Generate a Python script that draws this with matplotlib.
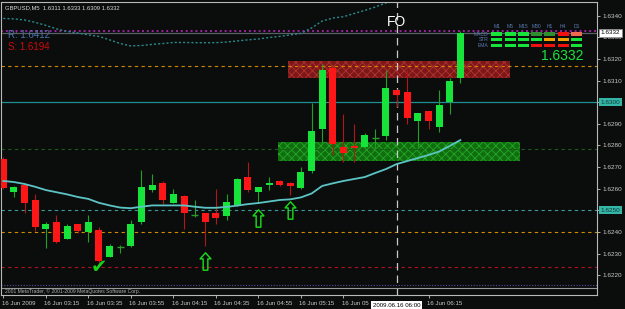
import matplotlib.pyplot as plt
from matplotlib.path import Path
from matplotlib.patches import Rectangle
from matplotlib.transforms import blended_transform_factory, ScaledTranslation

# GBPUSD M5, 16 Jun 2009, bars from 02:55 to 06:30
opens = [1.62738, 1.62586, 1.62616, 1.62548, 1.62415, 1.62448, 1.62366, 1.62438, 1.62399, 1.62409,
         1.62286, 1.62330, 1.62335, 1.62446, 1.62594, 1.62628, 1.62535, 1.62566, 1.62477, 1.62486,
         1.62486, 1.62475, 1.62523, 1.62656, 1.62585, 1.62616, 1.62637, 1.62628, 1.62602, 1.62682,
         1.62875, 1.63160, 1.62794, 1.62798, 1.62794, 1.62836, 1.62845, 1.63056, 1.63049, 1.62913,
         1.62959, 1.62887, 1.63000, 1.63110]
highs = [1.62748, 1.62614, 1.62620, 1.62576, 1.62446, 1.62479, 1.62437, 1.62438, 1.62479, 1.62425,
         1.62344, 1.62339, 1.62455, 1.62687, 1.62668, 1.62636, 1.62597, 1.62570, 1.62548, 1.62486,
         1.62597, 1.62576, 1.62648, 1.62725, 1.62610, 1.62656, 1.62640, 1.62630, 1.62702, 1.62995,
         1.63175, 1.63162, 1.62944, 1.62898, 1.62856, 1.62876, 1.63149, 1.63060, 1.63149, 1.62952,
         1.62960, 1.63056, 1.63111, 1.63330]
lows = [1.62598, 1.62563, 1.62489, 1.62406, 1.62327, 1.62350, 1.62366, 1.62397, 1.62355, 1.62255,
        1.62283, 1.62304, 1.62329, 1.62437, 1.62586, 1.62530, 1.62533, 1.62415, 1.62468, 1.62335,
        1.62437, 1.62455, 1.62520, 1.62586, 1.62535, 1.62594, 1.62613, 1.62571, 1.62598, 1.62674,
        1.62811, 1.62756, 1.62725, 1.62725, 1.62787, 1.62784, 1.62825, 1.62980, 1.62898, 1.62794,
        1.62876, 1.62864, 1.62944, 1.63090]
closes = [1.62605, 1.62607, 1.62535, 1.62425, 1.62438, 1.62355, 1.62428, 1.62405, 1.62448, 1.62266,
          1.62335, 1.62330, 1.62438, 1.62607, 1.62617, 1.62548, 1.62576, 1.62486, 1.62477, 1.62448,
          1.62465, 1.62537, 1.62645, 1.62594, 1.62607, 1.62628, 1.62616, 1.62614, 1.62679, 1.62867,
          1.63149, 1.62807, 1.62764, 1.62787, 1.62848, 1.62836, 1.63067, 1.63033, 1.62926, 1.62949,
          1.62913, 1.62987, 1.63098, 1.63320]

ma_line = [1.62636, 1.62631, 1.62622, 1.62609, 1.62594, 1.62584, 1.62574, 1.62562, 1.62553, 1.62535,
           1.62523, 1.62513, 1.62510, 1.62517, 1.62523, 1.62523, 1.62523, 1.62523, 1.62517, 1.62512,
           1.62512, 1.62516, 1.62522, 1.62529, 1.62534, 1.62541, 1.62548, 1.62551, 1.62560, 1.62578,
           1.62613, 1.62625, 1.62636, 1.62645, 1.62654, 1.62673, 1.62691, 1.62714, 1.62728, 1.62742,
           1.62756, 1.62772, 1.62798, 1.62825]
upper_line = [1.63387, 1.63385, 1.63380, 1.63369, 1.63355, 1.63339, 1.63327, 1.63320, 1.63311, 1.63304,
              1.63288, 1.63271, 1.63260, 1.63262, 1.63267, 1.63271, 1.63276, 1.63276, 1.63275, 1.63275,
              1.63275, 1.63278, 1.63283, 1.63288, 1.63292, 1.63299, 1.63304, 1.63311, 1.63318, 1.63343,
              1.63375, 1.63389, 1.63395, 1.63410, 1.63424, 1.63440, 1.63459, 1.63473]

level_prices = [1.63330, 1.63320, 1.63167, 1.63000, 1.62782, 1.62500, 1.62400, 1.62237, 1.62155]

zone_start = [26.8, 25.8]
zone_end = [47.7, 48.6]
zone_low = [1.63113, 1.62730]
zone_high = [1.63191, 1.62817]

arrow_bars = [19, 24, 27]
arrow_prices = [1.62264, 1.62465, 1.62504]
check_bar = 9
check_price = 1.62234

tick_bars = [0, 4, 8, 12, 16, 20, 24, 28, 32, 40]
tick_labels = ["16 Jun 2009", "16 Jun 03:15", "16 Jun 03:35", "16 Jun 03:55", "16 Jun 04:15",
               "16 Jun 04:35", "16 Jun 04:55", "16 Jun 05:15", "16 Jun 05", "16 Jun 06:15"]
price_ticks = [1.6220, 1.6230, 1.6240, 1.6250, 1.6260, 1.6270, 1.6280, 1.6290, 1.6300, 1.6310,
               1.6320, 1.6330, 1.6340]
boxed_prices = [1.6300, 1.6250]

tf_labels = ["M1", "M5", "M15", "M30", "H1", "H4", "D1"]
row_labels = ["MACD", "STR", "EMA"]
G, DG, R, O, S = "#16e43a", "#2f8f2f", "#f01010", "#f0a000", "#f06a50"
signal_colors = [[G, G, G, DG, DG, R, S],
                 [G, G, G, G, O, O, G],
                 [G, G, G, R, R, R, G]]

bg = "#0b0d0d"
plt.rcParams["hatch.linewidth"] = 0.6

fig = plt.figure(figsize=(6.25, 3.09), dpi=100, facecolor=bg)
ax = fig.add_axes([1 / 625, 14 / 309, 596 / 625, 293 / 309])
ax.set_facecolor(bg)
ax.set_xlim(-0.216, 55.85)
ax.set_ylim(1.62109, 1.63463)

# zones
zone_colors = [("#7c1818", "#b33232"), ("#0f6f0f", "#26a626")]
for i in range(2):
    ax.add_patch(Rectangle((zone_start[i], zone_low[i]), zone_end[i] - zone_start[i],
                           zone_high[i] - zone_low[i], facecolor=zone_colors[i][0],
                           edgecolor=zone_colors[i][1], hatch="xxxx", linewidth=0, zorder=1))

# horizontal levels
level_styles = [("#a020a0", (0, (1, 1.5)), 1.4), ("#5a6068", "-", 0.9), ("#d08a00", (0, (3, 3)), 0.8),
                ("#1f8f8f", "-", 0.9), ("#1a5a1a", (0, (3, 3)), 0.8), ("#3c9a9a", (0, (3, 3)), 0.8),
                ("#d08a00", (0, (3, 3)), 0.8), ("#b01020", (0, (3, 3)), 0.8), ("#5050a0", (0, (1, 1.5)), 0.8)]
for p, (c, ls, lw) in zip(level_prices, level_styles):
    ax.axhline(p, color=c, linestyle=ls, linewidth=lw, zorder=1.5)

# vertical line at 06:00
ax.axvline(37, color="#c8c8c8", linestyle=(0, (6, 4)), linewidth=0.9, zorder=1.5)

x = list(range(len(closes)))
ax.plot(range(len(upper_line)), upper_line, color="#2a8a8a", linestyle=(0, (1.5, 1.5)), linewidth=1.0, zorder=2)

# candles
for i in x:
    o, h, l, c = opens[i], highs[i], lows[i], closes[i]
    if o == c:
        ax.vlines(i, l, h, color="#2a9a2a", linewidth=0.8, zorder=3)
        ax.hlines(o, i - 0.33, i + 0.33, color="#2a9a2a", linewidth=1.0, zorder=3)
        continue
    bull = c > o
    ax.vlines(i, l, h, color="#22a022" if bull else "#b01818", linewidth=0.8, zorder=3)
    ax.bar(i, abs(c - o), width=0.66, bottom=min(o, c), color="#16e43a" if bull else "#ff1616",
           linewidth=0, zorder=4)

ax.plot(range(len(ma_line)), ma_line, color="#5cc4c4", linewidth=1.3, zorder=5)

# arrows and check mark
arrow = Path([(0, 1), (0.62, 0.3), (0.27, 0.3), (0.27, -1), (-0.27, -1), (-0.27, 0.3), (-0.62, 0.3), (0, 1)],
             [Path.MOVETO] + [Path.LINETO] * 6 + [Path.CLOSEPOLY])
ax.plot(arrow_bars, arrow_prices, linestyle="none", marker=arrow, markersize=12.5,
        markerfacecolor="none", markeredgecolor="#19e019", markeredgewidth=1.0, zorder=6)
ax.text(check_bar, check_price, "\u2714", color="#19d219", fontsize=14, ha="center", va="center",
        family="DejaVu Sans", zorder=6)

# axes frame and ticks
for s in ax.spines.values():
    s.set_color("#b8b8b8")
    s.set_linewidth(0.8)
ax.yaxis.tick_right()
ax.set_yticks(price_ticks)
ax.set_yticklabels(["" if p in boxed_prices else "%.4f" % p for p in price_ticks])
ax.tick_params(axis="y", colors="#c8c8c8", labelsize=4.6, length=2.5, width=0.6, pad=1.5)
ax.set_xticks(tick_bars)
ax.set_xticklabels(tick_labels, ha="left")
ax.tick_params(axis="x", colors="#c8c8c8", labelsize=4.4, length=2.5, width=0.6, pad=1.5)
for lab in ax.get_xticklabels() + ax.get_yticklabels():
    lab.set_family("Liberation Sans")
for lab in ax.get_xticklabels():
    lab.set_transform(lab.get_transform() + ScaledTranslation(-1.5 / 100, 0, fig.dpi_scale_trans))

# price boxes on the right scale
ytr = blended_transform_factory(ax.transAxes, ax.transData)
ax.text(1.006, 1.6332, "1.6332", transform=ytr, fontsize=4.6, color="black", family="Liberation Sans",
        va="center", ha="left", zorder=10, clip_on=False,
        bbox=dict(boxstyle="square,pad=0.25", facecolor="white", edgecolor="#909090", linewidth=0.5))
for p in boxed_prices:
    ax.text(1.006, p, "%.4f" % p, transform=ytr, fontsize=4.6, color="#0b3a3a", family="Liberation Sans",
            va="center", ha="left", zorder=10, clip_on=False,
            bbox=dict(boxstyle="square,pad=0.25", facecolor="#35b5a5", edgecolor="none"))

# time box at the bottom
xtr = blended_transform_factory(ax.transData, ax.transAxes)
ax.text(37, -0.035, "2009.06.16 06:00", transform=xtr, fontsize=4.4, color="black", family="Liberation Sans",
        va="center", ha="center", zorder=10, clip_on=False,
        bbox=dict(boxstyle="square,pad=0.3", facecolor="white", edgecolor="none"))

# texts
ax.text(0.006, 0.981, "GBPUSD,M5  1.6311 1.6333 1.6309 1.6332", transform=ax.transAxes, fontsize=4.2,
        color="#d8d8d8", family="Liberation Sans", va="center", ha="left")
ax.text(0.012, 0.888, "R: 1.6412", transform=ax.transAxes, fontsize=7, color="#4a73a8",
        family="Liberation Sans", va="center", ha="left")
ax.text(0.012, 0.846, "S: 1.6194", transform=ax.transAxes, fontsize=7, color="#cc0a0a",
        family="Liberation Sans", va="center", ha="left")
ax.text(37, 1.63371, "FO", fontsize=10, color="white", family="Liberation Sans", ha="center", va="center",
        zorder=7)

# signal table (top right)
col_x0, col_dx = 0.8319, 0.0223
row_y0, row_dy = 0.8905, 0.0189
for j, t in enumerate(tf_labels):
    ax.text(col_x0 + j * col_dx, 0.907, t, transform=ax.transAxes, fontsize=3.6, color="#5a7ab0",
            family="Liberation Sans", ha="center", va="bottom")
for r, name in enumerate(row_labels):
    ax.text(col_x0 - 0.014, row_y0 - r * row_dy, name, transform=ax.transAxes, fontsize=3.6,
            color="#5a7ab0", family="Liberation Sans", ha="right", va="center", zorder=8)
    for j in range(len(tf_labels)):
        ax.add_patch(Rectangle((col_x0 + j * col_dx - 0.0092, row_y0 - r * row_dy - 0.0055), 0.0184, 0.011,
                               transform=ax.transAxes, facecolor=signal_colors[r][j], edgecolor="none",
                               zorder=8))
ax.text(0.977, 0.815, "1.6332", transform=ax.transAxes, fontsize=10, color="#16e43a",
        family="Liberation Sans", ha="right", va="center", zorder=8)

# bottom strip
ax.axhline(1.62141, color="#9a9a9a", linewidth=0.8, zorder=1.5)
ax.text(0.006, 0.013, "2001 MetaTrader, \u00a9 2001-2009 MetaQuotes Software Corp.", transform=ax.transAxes,
        fontsize=3.6, color="#b0b0b0", family="Liberation Sans", va="center", ha="left")

fig.savefig("out.png", dpi=100, facecolor=bg)
